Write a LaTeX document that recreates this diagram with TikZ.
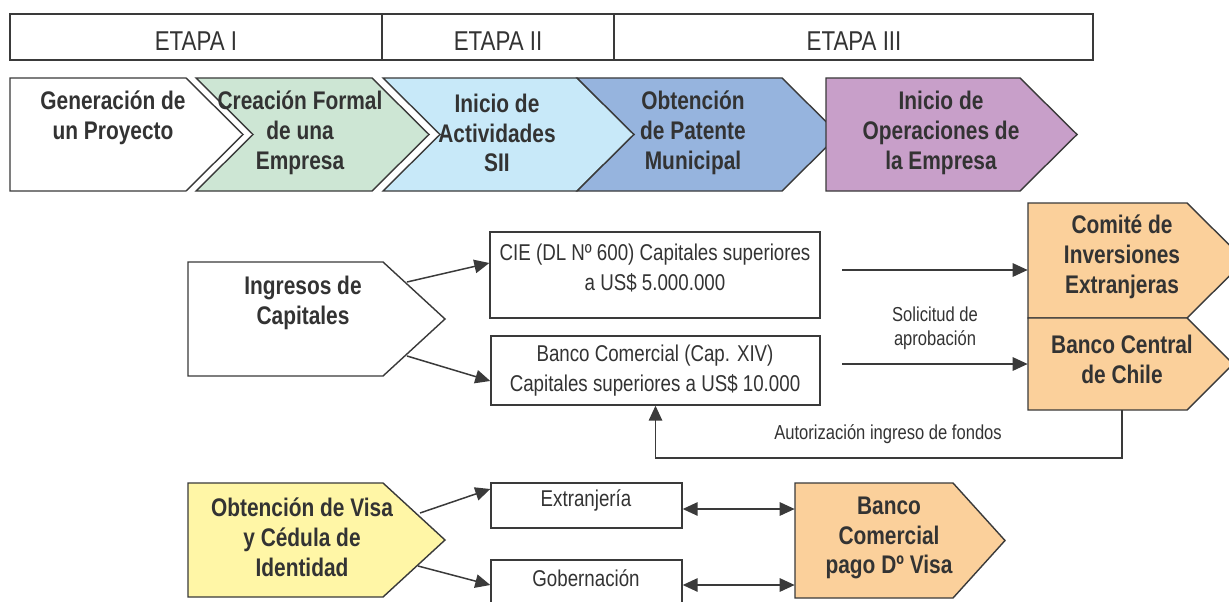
\documentclass[tikz,border=0pt]{standalone}
\usepackage{fontspec}
\setmainfont{Liberation Sans}[FakeStretch=0.82]
\usetikzlibrary{arrows.meta,calc,fit}
\definecolor{ln}{HTML}{3A3A3A}
\definecolor{tx}{HTML}{333333}
\definecolor{cgreen}{HTML}{CDE6D4}
\definecolor{clblue}{HTML}{C8E9F9}
\definecolor{cdblue}{HTML}{96B4DE}
\definecolor{cpurple}{HTML}{C89FC9}
\definecolor{corange}{HTML}{FBD09B}
\definecolor{cyellow}{HTML}{FFF6A6}
\newcommand\mypent[7]{%
  \path[shp, fill=#2] (#3,#4) -- (#5,#4) -- (#7,{(#4+#6)/2}) -- (#5,#6) -- (#3,#6) -- cycle;
  \node[fit={(#3,#4) (#7,#6)}, inner sep=0pt] (#1) {};}
\newcommand\mychev[7]{%
  \path[shp, fill=#2] (#3,#4) -- (#5,#4) -- (#7,{(#4+#6)/2}) -- (#5,#6) -- (#3,#6) -- ({#3+#7-#5},{(#4+#6)/2}) -- cycle;
  \node[fit={(#3,#4) (#7,#6)}, inner sep=0pt] (#1) {};}
\begin{document}
\begin{tikzpicture}[x=0.02cm,y=-0.02cm,
  shp/.style={draw=ln, line width=0.8pt, line join=miter},
  btxt/.style={text=tx, font=\fontsize{14.5}{17}\selectfont\bfseries, align=center, inner sep=0pt},
  rtxt/.style={text=tx, font=\fontsize{13}{17}\selectfont, align=center, inner sep=0pt},
  stxt/.style={text=tx, font=\fontsize{11.5}{13.6}\selectfont, align=center, inner sep=0pt},
  etxt/.style={text=tx, font=\fontsize{15.5}{17}\selectfont, inner sep=0pt},
  rbox/.style={draw=ln, line width=0.8pt, fill=white, inner sep=0pt},
  arr/.style={draw=ln, line width=0.85pt, -{Triangle[length=3mm,width=2.7mm]}},
  darr/.style={draw=ln, line width=0.85pt, {Triangle[length=3mm,width=2.7mm]}-{Triangle[length=3mm,width=2.7mm]}}
]
\useasboundingbox (0,0) rectangle (1229,601);
\clip (0,0) rectangle (1229,601);
\fill[white] (0,0) rectangle (1229,601);

% Etapas
\node[rbox, fit={(10,14) (382,60)}] (e1) {};
\node[rbox, fit={(382,14) (614,60)}] (e2) {};
\node[rbox, fit={(614,14) (1093,60)}] (e3) {};
\node[etxt] (te1) at (196,41) {ETAPA I};
\node[etxt] (te2) at (498,41) {ETAPA II};
\node[etxt] (te3) at (854,41) {ETAPA III};

% Chevron row
\mypent{c1}{white}{10}{78}{186}{191}{243}
\mychev{c2}{cgreen}{196}{78}{372}{191}{429}
\mychev{c3}{clblue}{383}{78}{577}{191}{634}
\mychev{c4}{cdblue}{577}{78}{782}{191}{839}
\mypent{c5}{cpurple}{826}{78}{1020}{191}{1077}
\node[btxt] (t1) at (113,118) {Generación de\\un Proyecto};
\node[btxt] (t2) at (300,133) {Creación Formal\\de una\\Empresa};
\node[btxt] (t3) at (497,133) {Inicio de\\Actividades\\SII};
\node[btxt] (t4) at (693,133) {Obtención\\de Patente\\Municipal};
\node[btxt] (t5) at (941,133) {Inicio de\\Operaciones de\\la Empresa};

% Ingresos de capitales
\mypent{ing}{white}{188}{262}{383}{376}{445}
\node[btxt] (tING) at (303,303) {Ingresos de\\Capitales};
\node[rbox, fit={(490,232) (820,318)}] (cie) {};
\node[rtxt] (tCIE) at (655,268) {CIE (DL Nº 600) Capitales superiores\\a US\$ 5.000.000};
\node[rbox, fit={(491,336) (820,405)}] (bc) {};
\node[rtxt] (tBC) at (655,371) {Banco Comercial (Cap. XIV)\\Capitales superiores a US\$ 10.000};

\mypent{com}{corange}{1028}{203}{1187}{318}{1245}
\mypent{bcen}{corange}{1028}{318}{1187}{410}{1233}
\node[btxt] (tCOM) at (1122,257) {Comité de\\Inversiones\\Extranjeras};
\node[btxt] (tBCEN) at (1122,359) {Banco Central\\de Chile};

\coordinate (ingA) at (407,282);
\coordinate (ingB) at (407,356);
\draw[arr] (ingA) -- ([yshift=0.24cm]cie.west);
\draw[arr] (ingB) -- ([yshift=-0.21cm]bc.west);

\coordinate (a1) at (842,270);
\coordinate (a2) at (842,364);
\draw[arr] (a1) -- (a1 -| com.west);
\draw[arr] (a2) -- (a2 -| bcen.west);
\node[stxt] (sol) at (935,328) {Solicitud de\\aprobación};

\coordinate (fb) at (1122,458);
\draw[arr] (bcen.south -| fb) -- (fb) -- (fb -| bc.south) -- (bc.south);
\node[stxt] (aut) at (888,434) {Autorización ingreso de fondos};

% Visa
\mypent{visa}{cyellow}{188}{483}{383}{597}{445}
\node[btxt] (tVISA) at (302,537) {Obtención de Visa\\y Cédula de\\Identidad};
\node[rbox, fit={(491,483) (682,528)}] (ext) {};
\node[rtxt] (tEXT) at (586,500) {Extranjería};
\node[rbox, fit={(491,560) (682,610)}] (gob) {};
\node[rtxt] (tGOB) at (586,578) {Gobernación};
\mypent{bcp}{corange}{795}{483}{953}{598}{1005}
\node[btxt] (tBCP) at (889,538) {Banco\\Comercial\\pago Dº Visa};

\coordinate (vA) at (420,513);
\coordinate (vB) at (418,566);
\draw[arr] (vA) -- ([yshift=0.33cm]ext.west);
\draw[arr] (vB) -- (gob.west);
\draw[darr] ([yshift=-0.07cm]ext.east) -- ([yshift=-0.07cm]ext.east -| bcp.west);
\draw[darr] (gob.east) -- (gob.east -| bcp.west);
\end{tikzpicture}
\end{document}
